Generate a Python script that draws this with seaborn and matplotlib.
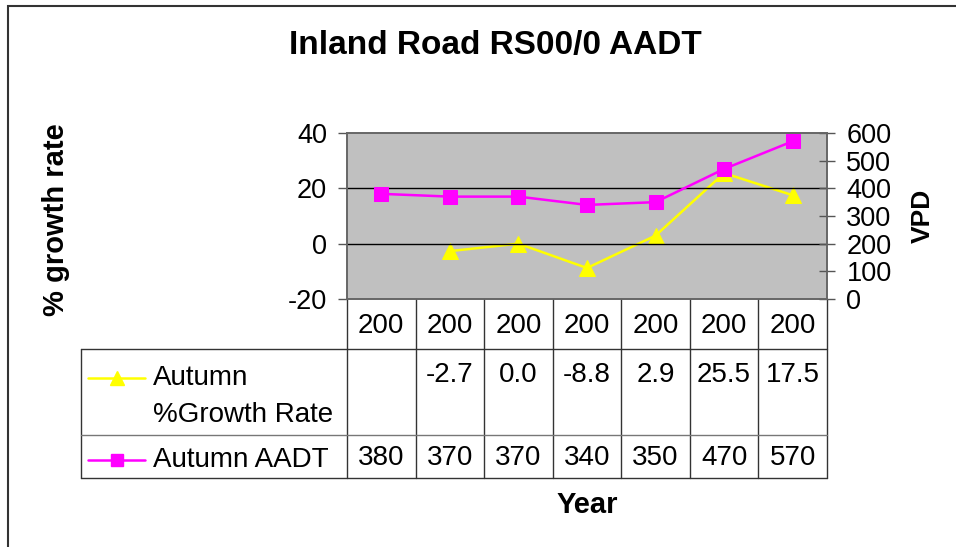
import numpy as np
import pandas as pd
import matplotlib
matplotlib.use('Agg')
import matplotlib.pyplot as plt
import seaborn as sns

# data
year_labels = ['200', '200', '200', '200', '200', '200', '200']
growth_rate = [np.nan, -2.7, 0.0, -8.8, 2.9, 25.5, 17.5]
aadt = [380, 370, 370, 340, 350, 470, 570]
growth_name = 'Autumn\n%Growth Rate'
aadt_name = 'Autumn AADT'

sns.set_theme(style='white')
plt.rcParams['font.family'] = ['Liberation Sans', 'DejaVu Sans']
plt.rcParams['axes.unicode_minus'] = False
plt.rcParams['text.color'] = 'black'
plt.rcParams['ytick.color'] = 'black'

df = pd.DataFrame({'pos': np.arange(len(year_labels)),
                   'growth': growth_rate, 'aadt': aadt})

fig = plt.figure(figsize=(9.56, 5.47), dpi=100)
ax = fig.add_axes([0.363, 0.4534, 0.502, 0.3035])
ax.set_facecolor('#C0C0C0')
ax2 = ax.twinx()

sns.lineplot(data=df, x='pos', y='growth', ax=ax, color='#FFFF00', lw=1.8,
             marker='^', markersize=12, markeredgecolor='#FFFF00', clip_on=False)
sns.lineplot(data=df, x='pos', y='aadt', ax=ax2, color='#FF00FF', lw=1.8,
             marker='s', markersize=10, markeredgecolor='#FF00FF', clip_on=False)

ax.set_xlim(-0.5, len(year_labels) - 0.5)
ax.set_ylim(-20, 40)
ax.set_yticks([-20, 0, 20, 40])
ax2.set_ylim(0, 600)
ax2.set_yticks(range(0, 601, 100))
ax.set_xticks([])
ax.set_xlabel('')
ax.set_ylabel('')
ax2.set_ylabel('')
ax.grid(False)
ax2.grid(False)
for y in [0, 20]:
    ax.axhline(y, color='black', lw=1)

ax.tick_params(axis='y', left=True, direction='out', length=6.5, width=1,
               color='#555555', labelcolor='black', labelsize=19.5, pad=8)
ax2.tick_params(axis='y', right=True, direction='inout', length=12, width=1,
                color='#555555', labelcolor='black', labelsize=19.5, pad=8)
for a in (ax, ax2):
    for s in a.spines.values():
        s.set_color('#666666')
        s.set_linewidth(1.2)

# data table under the plot
tr = ax.get_xaxis_transform()
n = len(year_labels)
x_left = -4.379
y_head, y_r1, y_r2 = -0.301, -0.819, -1.078
line_kw = dict(transform=tr, clip_on=False, color='#333333', lw=1)
for i in range(n + 1):
    ax.plot([i - 0.5, i - 0.5], [0, y_r2], **line_kw)
ax.plot([x_left, x_left], [y_head, y_r2], **line_kw)
ax.plot([x_left, n - 0.5], [y_head, y_head], **line_kw)
ax.plot([x_left, n - 0.5], [y_r1, y_r1], transform=tr, clip_on=False, color='#777777', lw=1)
ax.plot([x_left, n - 0.5], [y_r2, y_r2], **line_kw)

tsize = 20
for i, lab in enumerate(year_labels):
    ax.text(i, -0.163, lab, transform=tr, ha='center', va='center', fontsize=tsize)
    if not np.isnan(growth_rate[i]):
        ax.text(i, -0.458, f'{growth_rate[i]:.1f}', transform=tr, ha='center', va='center',
                fontsize=tsize)
    ax.text(i, -0.958, f'{aadt[i]}', transform=tr, ha='center', va='center', fontsize=tsize)

# legend keys inside the table
ax.plot([-4.277, -3.446], [-0.476, -0.476], transform=tr, clip_on=False, color='#FFFF00', lw=1.8)
ax.plot([-3.854], [-0.476], transform=tr, clip_on=False, marker='^', markersize=10,
        color='#FFFF00', markeredgecolor='#FFFF00')
ax.plot([-4.277, -3.446], [-0.970, -0.970], transform=tr, clip_on=False, color='#FF00FF', lw=1.8)
ax.plot([-3.854], [-0.970], transform=tr, clip_on=False, marker='s', markersize=8,
        color='#FF00FF', markeredgecolor='#FF00FF')
for k, line in enumerate(growth_name.split('\n')):
    ax.text(-3.329, [-0.476, -0.699][k], line, transform=tr, ha='left', va='center', fontsize=tsize)
ax.text(-3.329, -0.970, aadt_name, transform=tr, ha='left', va='center', fontsize=tsize)

fig.text(0.518, 0.916, 'Inland Road RS00/0 AADT', ha='center', va='center',
         fontsize=24, fontweight='bold')
fig.text(0.059, 0.598, '% growth rate', ha='center', va='center', rotation=90,
         fontsize=21, fontweight='bold')
fig.text(0.9655, 0.605, 'VPD', ha='center', va='center', rotation=90,
         fontsize=19, fontweight='bold')
fig.text(0.614, 0.077, 'Year', ha='center', va='center', fontsize=21, fontweight='bold')

fig.add_artist(plt.Rectangle((0.0084, -0.05), 1.1, 1.039, transform=fig.transFigure,
                             fill=False, edgecolor='#333333', lw=1.5))

fig.savefig('out.png', dpi=100)
